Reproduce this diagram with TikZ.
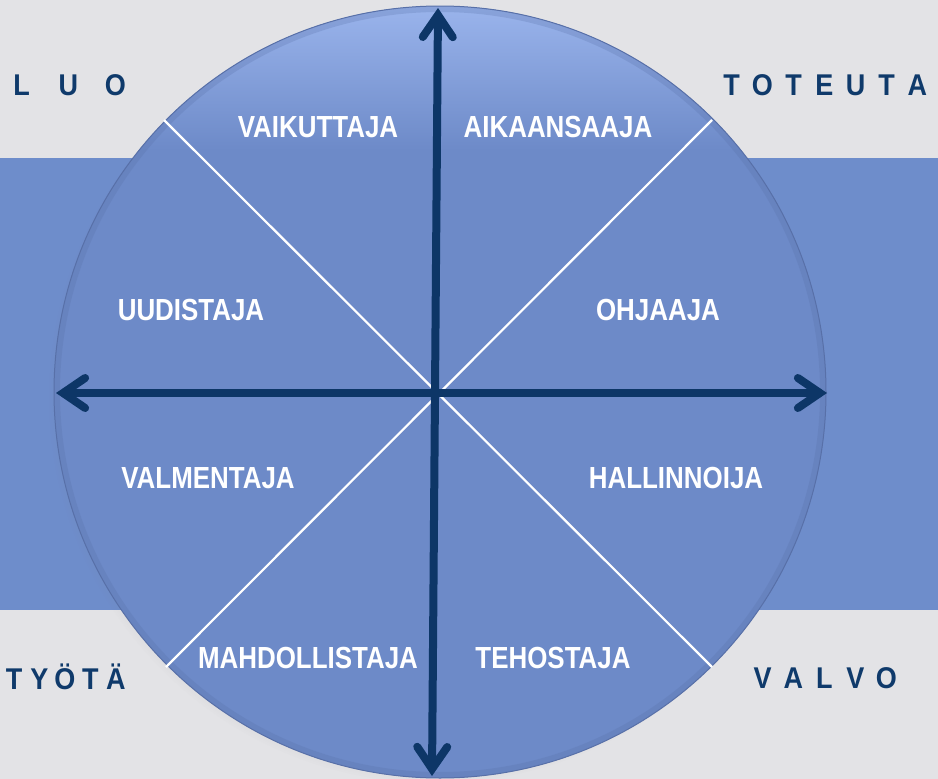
\documentclass[tikz,border=0pt]{standalone}
\usepackage{fontspec}
\setmainfont{Liberation Sans}
\newfontfamily\labfont[FakeStretch=0.85]{Liberation Sans}
\newfontfamily\outfont[FakeStretch=0.9]{Liberation Sans}
\usetikzlibrary{arrows.meta,shadows}
\definecolor{bgc}{HTML}{E3E3E6}
\definecolor{bandc}{HTML}{6E8DCB}
\definecolor{circtop}{HTML}{9AB4EC}
\definecolor{circbody}{HTML}{6D8AC8}
\definecolor{circedge}{HTML}{5870A8}
\definecolor{navyc}{HTML}{0F3A6B}
\definecolor{arrowc}{HTML}{0D3667}
\newcommand{\lb}[2]{\makebox[#1]{#2}}
\begin{document}
\begin{tikzpicture}[x=1pt,y=-1pt,
  inlabel/.style={text=white,font=\labfont\bfseries\fontsize{30.5}{30}\selectfont,anchor=base,inner sep=0pt},
  outlabel/.style={text=navyc,font=\outfont\bfseries\fontsize{30}{30}\selectfont,anchor=base,inner sep=0pt},
  axisline/.style={draw=arrowc,line width=8pt,line cap=round,
    {Straight Barb[length=22pt,width=30pt,line cap=round]}-{Straight Barb[length=22pt,width=30pt,line cap=round]}},
  divider/.style={draw=white,line width=2.2pt}]
\useasboundingbox (0,0) rectangle (938,779);
\fill[bgc] (0,0) rectangle (938,779);
\fill[bandc] (0,158) rectangle (938,610);
% wheel
\coordinate (C) at (440,392);
\fill[circbody, circular drop shadow={shadow xshift=-5pt, shadow yshift=-5pt, opacity=0.35, shadow scale=1.0}] (C) circle (386pt);
\begin{scope}
  \clip (C) circle (386pt);
  \shade[top color=circtop, bottom color=circbody] (40,6) rectangle (840,150);
  \draw[circedge, line width=6pt, opacity=0.25] (C) circle (383pt);
\end{scope}
\draw[circedge, line width=1pt] (C) circle (386pt);
% dividers
\coordinate (d1a) at (164,120);
\coordinate (d1b) at (712,667);
\coordinate (d2a) at (712,120);
\coordinate (d2b) at (166,667);
\draw[divider] (d1a) -- (d1b);
\draw[divider] (d2a) -- (d2b);
% axes
\coordinate (atop) at (438,8);
\coordinate (abot) at (432,776);
\coordinate (aleft) at (56,393);
\coordinate (aright) at (827,393);
\draw[axisline] (abot) -- (atop);
\draw[axisline] (aleft) -- (aright);
% inner labels
\node[inlabel] (vaik) at (318,137) {VAIKUTTAJA};
\node[inlabel] (aika) at (558,137) {AIKAANSAAJA};
\node[inlabel] (uudi) at (191,320) {UUDISTAJA};
\node[inlabel] (ohja) at (658,320) {OHJAAJA};
\node[inlabel] (valm) at (208,488) {VALMENTAJA};
\node[inlabel] (hall) at (676,488) {HALLINNOIJA};
\node[inlabel] (mahd) at (308,668) {MAHDOLLISTAJA};
\node[inlabel] (teho) at (553,668) {TEHOSTAJA};
% outer labels
\node[outlabel] (luo) at (68.5,95) {\lb{47pt}{L}\lb{47pt}{U}\lb{47pt}{O}};
\node[outlabel] (tot) at (824.5,95) {\lb{31pt}{T}\lb{31pt}{O}\lb{31pt}{T}\lb{31pt}{E}\lb{31pt}{U}\lb{31pt}{T}\lb{31pt}{A}};
\node[outlabel] (tyo) at (65,689) {\lb{25.5pt}{T}\lb{25.5pt}{Y}\lb{25.5pt}{Ö}\lb{25.5pt}{T}\lb{25.5pt}{Ä}};
\node[outlabel] (valv) at (824.5,688) {\lb{31pt}{V}\lb{31pt}{A}\lb{31pt}{L}\lb{31pt}{V}\lb{31pt}{O}};
\end{tikzpicture}
\end{document}
